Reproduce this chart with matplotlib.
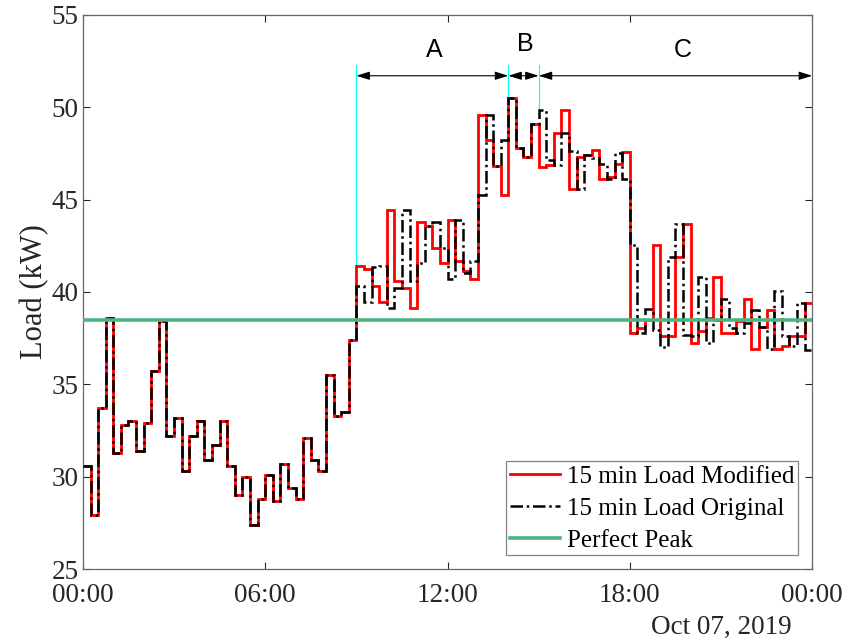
import numpy as np
import matplotlib
matplotlib.use("Agg")
import matplotlib.pyplot as plt

# 15 min load, 96 steps over Oct 07, 2019 (kW)
load_orig = [30.6, 27.9, 33.7, 38.6, 31.3, 32.8, 33.0, 31.4, 32.9, 35.7, 38.4, 32.2,
             33.2, 30.3, 32.2, 33.0, 30.9, 31.7, 33.0, 30.6, 29.0, 30.0, 27.4, 28.8,
             30.1, 28.7, 30.7, 29.4, 28.8, 32.1, 30.9, 30.3, 35.5, 33.3, 33.5, 37.4,
             40.3, 39.45, 41.35, 41.4, 39.15, 40.2, 44.45, 40.6, 41.55, 43.55, 43.8, 42.4,
             40.7, 43.9, 41.0, 41.7, 45.25, 49.6, 46.8, 48.2, 50.5, 47.8, 47.3, 49.1,
             49.85, 47.15, 46.85, 48.6, 47.65, 45.55, 47.4, 47.25, 46.9, 46.1, 47.5, 46.1,
             42.55, 37.75, 39.1, 37.95, 37.0, 41.9, 43.65, 37.65, 37.6, 40.8, 37.25, 38.5,
             39.6, 38.05, 37.8, 38.3, 39.0, 38.1, 36.9, 40.05, 37.6, 37.1, 39.4, 36.85]
load_mod = load_orig[:36] + [
             41.4, 41.25, 40.3, 39.45, 44.45, 40.6, 40.2, 39.15, 43.8, 43.55, 42.4, 41.55,
             43.9, 41.7, 41.15, 40.7, 49.6, 48.2, 46.8, 45.25, 50.5, 47.8, 47.3, 49.1,
             46.75, 46.85, 48.6, 49.85, 45.55, 47.3, 47.4, 47.7, 46.1, 46.2, 46.9, 47.6,
             37.75, 38.05, 38.5, 42.55, 37.6, 37.6, 41.9, 43.65, 37.25, 37.9, 38.6, 40.8,
             37.8, 37.8, 38.4, 39.6, 36.9, 38.1, 39.0, 36.9, 37.1, 37.6, 37.6, 39.4]
perfect_peak = 38.5

# period boundaries (hours) and labels
bounds = [9.0, 14.0, 15.0, 24.0]
periods = ["A", "B", "C"]

xticks = [0, 6, 12, 18, 24]
xticklabels = ["00:00", "06:00", "12:00", "18:00", "00:00"]
yticks = [25, 30, 35, 40, 45, 50, 55]

edges = np.arange(len(load_orig) + 1) * 0.25
orig = np.array(load_orig)
mod = np.array(load_mod)

plt.rcParams['font.family'] = ['Liberation Serif', 'DejaVu Serif']
fig = plt.figure(figsize=(8.46, 6.43), dpi=100)
ax = fig.add_axes([0.098, 0.115, 0.862, 0.862])

ax.stairs(mod, edges, color="#ff0000", lw=2.0, baseline=None,
          label="15 min Load Modified", zorder=3)
ax.stairs(orig, edges, color="black", lw=1.8, baseline=None,
          linestyle=(0, (5, 1.5, 1, 1.5)), label="15 min Load Original", zorder=4)
ax.axhline(perfect_peak, color="#4cb381", lw=2.6, label="Perfect Peak", zorder=5)

# period markers
arr_y = 51.7
top = 52.3
for b in bounds[:-1]:
    i = int(round(b * 4))
    lo = max(mod[i - 1] if i > 0 else 0, mod[i], orig[i])
    ax.plot([b, b], [lo, top], color="#00ffff", lw=0.8, zorder=2)
for (a, b), name in zip(zip(bounds[:-1], bounds[1:]), periods):
    ax.annotate("", xy=(b, arr_y), xytext=(a, arr_y),
                arrowprops=dict(arrowstyle="<|-|>,head_length=0.8,head_width=0.25",
                                color="black", lw=0.8, shrinkA=0, shrinkB=0))
ax.text(11.55, 53.1, "A", family="Liberation Sans", fontsize=18, ha="center", va="center")
ax.text(14.55, 53.4, "B", family="Liberation Sans", fontsize=18, ha="center", va="center")
ax.text(19.75, 53.1, "C", family="Liberation Sans", fontsize=18, ha="center", va="center")

ax.set_xlim(0, 24)
ax.set_ylim(25, 55)
ax.set_xticks(xticks)
ax.set_xticklabels(xticklabels)
ax.set_yticks(yticks)
ax.tick_params(direction="in", top=True, right=True, labelsize=19.5,
               colors="#262626", length=5, width=0.8)
ax.tick_params(axis="x", pad=10)
ax.tick_params(axis="y", pad=3)
for s in ax.spines.values():
    s.set_color("#666666")
    s.set_linewidth(0.9)
ax.set_ylabel("Load (kW)", fontsize=22, color="#262626", labelpad=2)
fig.text(0.936, 0.005, "Oct 07, 2019", ha="right", va="bottom", fontsize=19.5, color="#262626")

leg = ax.legend(loc="lower right", fontsize=18, frameon=True, fancybox=False,
                edgecolor="#666666", borderpad=0.15, labelspacing=0.38,
                handlelength=2.0, handletextpad=0.3, borderaxespad=0.55)
leg.get_frame().set_linewidth(0.9)

fig.savefig("out.png", dpi=100)
